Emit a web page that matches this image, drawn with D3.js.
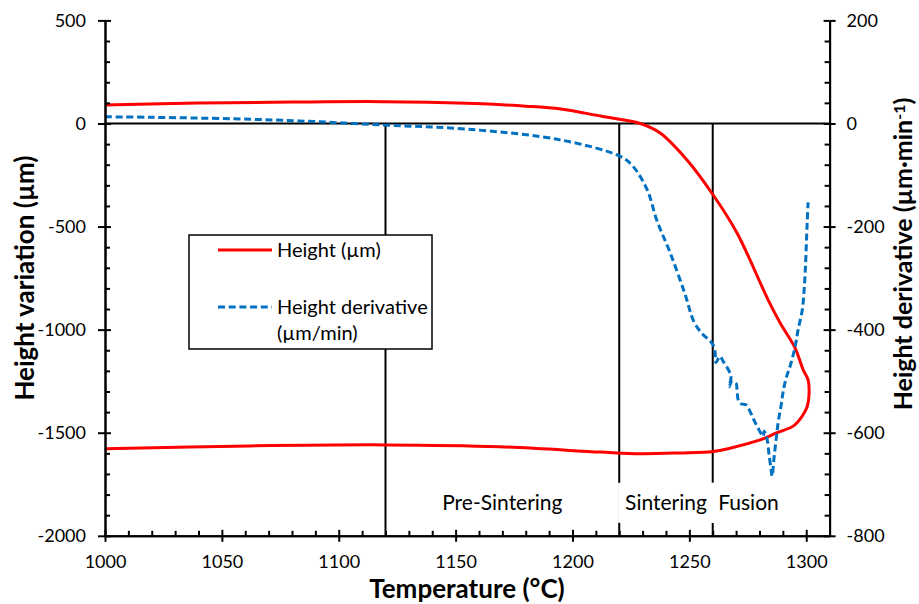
<!DOCTYPE html>
<html>
<head>
<meta charset="utf-8">
<script src="https://cdn.jsdelivr.net/npm/d3@7"></script>
<style>
  body { margin: 0; background: #fff; }
  svg { font-family: Lato, "Open Sans", sans-serif; }
</style>
</head>
<body>
<div id="chart"></div>
<script>
// height curve (left axis), read in drawing order: heating branch then the return branch
var heightTemp = [1000, 1040, 1080, 1119, 1155, 1180, 1195, 1212, 1229, 1237.5, 1249, 1260.2, 1270.4, 1283.7,
  1288.8, 1295.2, 1298.7, 1300.8, 1301.2, 1300.4, 1298, 1294.4, 1287.5, 1280.3, 1267.4, 1260.2,
  1246, 1229, 1212, 1169, 1120, 1062, 1000];
var heightVal = [90, 99, 104, 106, 98, 84, 70, 36, 0, -46, -177, -347, -531, -856,
  -967, -1088, -1195, -1244, -1316, -1374, -1424, -1468, -1500, -1535, -1575, -1591,
  -1598, -1602, -1594, -1568, -1559, -1564, -1578];

// height derivative (right axis)
var derivTemp = [1000, 1020, 1055, 1083, 1119, 1155, 1195, 1220, 1225.5, 1232, 1236, 1241.8, 1248,
  1252, 1255.9, 1258.5, 1260.2, 1261, 1261.4, 1263.1, 1264.4, 1266.1, 1267.8, 1267, 1268.3, 1270,
  1270.4, 1270.9, 1272.1, 1274.3, 1276, 1277.7, 1279.4, 1281.6, 1282, 1283.3, 1284.1, 1285, 1285.4,
  1286.2, 1287.1, 1288, 1289.3, 1290.1, 1291.4, 1293.1, 1295.2, 1296.5, 1298.3, 1299.1, 1299.6,
  1300, 1300.4, 1300.8];
var derivVal = [13, 12, 9, 5, -3, -11, -32, -63, -81, -129, -187, -251, -329,
  -385, -410, -420, -430, -443, -464, -452, -461, -473, -491, -511, -500, -504,
  -517, -536, -544, -546, -559, -576, -591, -607, -597, -614, -643, -672, -684,
  -650, -614, -580, -546, -521, -494, -471, -434, -401, -362, -323, -285,
  -240, -194, -153];

var phaseLines = [1120, 1220, 1260];
var phaseNames = ["Pre-Sintering", "Sintering", "Fusion"];
var phaseNameTemp = [1170, 1240, 1275.3];
var phaseNameLevel = -1840;

var xTicks = d3.range(1000, 1301, 50);
var xMinor = d3.range(1010, 1301, 10).filter(function(d) { return d % 50 != 0 });
var yTicks = d3.range(-2000, 501, 500);
var yMinor = d3.range(-1900, 500, 100).filter(function(d) { return d % 500 != 0 });
var y2Ticks = d3.range(-800, 201, 200);
var y2Minor = d3.range(-760, 200, 40).filter(function(d) { return d % 200 != 0 });

var W = 919, H = 604;
var svg = d3.select("#chart").append("svg")
  .attr("width", W)
  .attr("height", H);

var x = d3.scaleLinear().domain([1000, 1310]).range([105, 829.6]);
var y = d3.scaleLinear().domain([-2000, 500]).range([535.8, 20.4]);
var y2 = d3.scaleLinear().domain([-800, 200]).range([535.8, 20.4]);

var fmt = function(d) { return String(d) };

// phase separators and zero line
svg.selectAll(".phase")
  .data(phaseLines)
  .enter()
  .append("line")
  .attr("x1", function(d) { return x(d) })
  .attr("x2", function(d) { return x(d) })
  .attr("y1", y(0))
  .attr("y2", y(-2000))
  .attr("stroke", "#000")
  .attr("stroke-width", 2);

svg.append("line")
  .attr("x1", x(1000)).attr("x2", x(1310))
  .attr("y1", y(0)).attr("y2", y(0))
  .attr("stroke", "#000")
  .attr("stroke-width", 2);

// phase names with white boxes
var names = svg.selectAll(".pname")
  .data(phaseNames)
  .enter()
  .append("g");
names.append("rect").attr("fill", "#fff");
names.append("text")
  .attr("x", function(d, i) { return x(phaseNameTemp[i]) })
  .attr("y", y(phaseNameLevel))
  .attr("dy", "0.35em")
  .attr("text-anchor", "middle")
  .style("font-size", "21px")
  .text(function(d) { return d });
names.each(function() {
  var g = d3.select(this);
  var b = g.select("text").node().getBBox();
  g.select("rect")
    .attr("x", b.x - 7).attr("width", b.width + 14)
    .attr("y", y(phaseNameLevel) - 20).attr("height", 40);
});

// curves
var hData = heightTemp.map(function(t, i) { return [t, heightVal[i]] });
var dData = derivTemp.map(function(t, i) { return [t, derivVal[i]] });

svg.append("path")
  .datum(hData)
  .attr("fill", "none")
  .attr("stroke", "#ff0000")
  .attr("stroke-width", 3)
  .attr("d", d3.line()
    .x(function(d) { return x(d[0]) })
    .y(function(d) { return y(d[1]) })
    .curve(d3.curveCatmullRom.alpha(0.5)));

svg.append("path")
  .datum(dData)
  .attr("fill", "none")
  .attr("stroke", "#0070c0")
  .attr("stroke-width", 3)
  .attr("stroke-dasharray", "7,3.7")
  .attr("d", d3.line()
    .x(function(d) { return x(d[0]) })
    .y(function(d) { return y2(d[1]) })
    .curve(d3.curveCatmullRom.alpha(0.5)));

// axes
function styleAxis(g) {
  g.selectAll("path, line").attr("stroke", "#000").attr("stroke-width", 2);
  g.selectAll("text").style("font-size", "18px").attr("fill", "#000");
  g.attr("font-family", null);
}

svg.append("g")
  .attr("transform", "translate(0," + y(-2000) + ")")
  .call(d3.axisBottom(x).tickValues(xTicks).tickSize(6).tickSizeOuter(0).tickPadding(13).tickFormat(fmt))
  .call(styleAxis);
svg.append("g")
  .attr("transform", "translate(0," + y(-2000) + ")")
  .call(d3.axisTop(x).tickValues(xTicks).tickSize(6).tickSizeOuter(0).tickFormat(""))
  .call(styleAxis);
svg.append("g")
  .attr("transform", "translate(0," + y(-2000) + ")")
  .call(d3.axisTop(x).tickValues(xMinor).tickSize(5).tickSizeOuter(0).tickFormat(""))
  .call(styleAxis)
  .select(".domain").remove();

svg.append("g")
  .attr("transform", "translate(" + x(1000) + ",0)")
  .call(d3.axisLeft(y).tickValues(yTicks).tickSize(7).tickSizeOuter(0).tickPadding(12).tickFormat(fmt))
  .call(styleAxis);
svg.append("g")
  .attr("transform", "translate(" + x(1000) + ",0)")
  .call(d3.axisRight(y).tickValues(yTicks).tickSize(6).tickSizeOuter(0).tickFormat(""))
  .call(styleAxis);
svg.append("g")
  .attr("transform", "translate(" + x(1000) + ",0)")
  .call(d3.axisRight(y).tickValues(yMinor).tickSize(5).tickSizeOuter(0).tickFormat(""))
  .call(styleAxis)
  .select(".domain").remove();

svg.append("g")
  .attr("transform", "translate(" + x(1310) + ",0)")
  .call(d3.axisRight(y2).tickValues(y2Ticks).tickSize(6).tickSizeOuter(0).tickPadding(11).tickFormat(fmt))
  .call(styleAxis);
svg.append("g")
  .attr("transform", "translate(" + x(1310) + ",0)")
  .call(d3.axisLeft(y2).tickValues(y2Ticks).tickSize(6).tickSizeOuter(0).tickFormat(""))
  .call(styleAxis);
svg.append("g")
  .attr("transform", "translate(" + x(1310) + ",0)")
  .call(d3.axisLeft(y2).tickValues(y2Minor).tickSize(5).tickSizeOuter(0).tickFormat(""))
  .call(styleAxis)
  .select(".domain").remove();

// axis titles
svg.append("text")
  .attr("x", 467).attr("y", 598)
  .attr("text-anchor", "middle")
  .style("font-size", "26px").style("font-weight", "bold")
  .text("Temperature (°C)");

svg.append("text")
  .attr("transform", "translate(34," + 278 + ") rotate(-90)")
  .attr("text-anchor", "middle")
  .style("font-size", "26px").style("font-weight", "bold")
  .text("Height variation (µm)");

var rt = svg.append("text")
  .attr("transform", "translate(912," + 254 + ") rotate(-90)")
  .attr("text-anchor", "middle")
  .style("font-size", "25px").style("font-weight", "bold");
rt.append("tspan").text("Height derivative (µm·min");
rt.append("tspan").attr("dy", "-0.45em").style("font-size", "16px").text("-1");
rt.append("tspan").attr("dy", "0.3em").text(")");

// legend
var lg = svg.append("g");
lg.append("rect")
  .attr("x", 189).attr("y", 235)
  .attr("width", 243).attr("height", 114)
  .attr("fill", "#fff")
  .attr("stroke", "#000")
  .attr("stroke-width", 1.5);
lg.append("line")
  .attr("x1", 218).attr("x2", 272).attr("y1", 250).attr("y2", 250)
  .attr("stroke", "#ff0000").attr("stroke-width", 3);
lg.append("text")
  .attr("x", 277).attr("y", 257)
  .style("font-size", "20px")
  .text("Height (µm)");
lg.append("line")
  .attr("x1", 218).attr("x2", 272).attr("y1", 307).attr("y2", 307)
  .attr("stroke", "#0070c0").attr("stroke-width", 3)
  .attr("stroke-dasharray", "7,3.7");
lg.append("text")
  .attr("x", 277).attr("y", 314)
  .style("font-size", "20px")
  .text("Height derivative");
lg.append("text")
  .attr("x", 277).attr("y", 340)
  .style("font-size", "20px")
  .text("(µm/min)");
</script>
</body>
</html>
